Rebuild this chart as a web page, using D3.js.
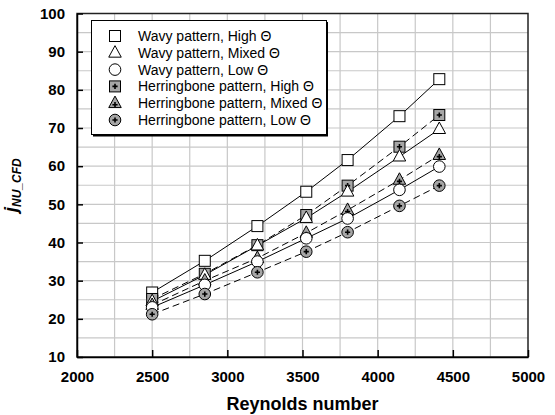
<!DOCTYPE html>
<html>
<head>
<meta charset="utf-8">
<script src="https://cdn.jsdelivr.net/npm/d3@7"></script>
<style>
html,body{margin:0;padding:0;background:#fff;}
svg{display:block;font-family:"Liberation Sans",Arial,sans-serif;}
</style>
</head>
<body>
<svg id="chart" width="555" height="415"></svg>
<script>
// ---- data ----
const reynolds = [2500, 2850, 3200, 3525, 3800, 4145, 4410];
const wavyHigh   = [26.9, 35.2, 44.3, 53.3, 61.6, 73.1, 82.8];
const wavyMixed  = [24.6, 31.5, 39.2, 46.4, 53.3, 62.5, 69.7];
const wavyLow    = [23.0, 28.9, 35.0, 41.1, 46.3, 53.8, 59.9];
const hbHigh     = [25.2, 31.8, 39.3, 47.2, 54.9, 65.1, 73.4];
const hbMixed    = [23.6, 30.0, 35.9, 42.5, 48.5, 56.4, 62.9];
const hbLow      = [21.2, 26.5, 32.2, 37.6, 42.7, 49.6, 54.9];
const seriesNames = ["Wavy pattern, High \u0398","Wavy pattern, Mixed \u0398","Wavy pattern, Low \u0398",
  "Herringbone pattern, High \u0398","Herringbone pattern, Mixed \u0398","Herringbone pattern, Low \u0398"];
const xTicks = [2000, 2500, 3000, 3500, 4000, 4500, 5000];
const yTicks = [10, 20, 30, 40, 50, 60, 70, 80, 90, 100];

const series = [
  {name: seriesNames[0], values: wavyHigh,  shape: "square",   filled: false},
  {name: seriesNames[1], values: wavyMixed, shape: "triangle", filled: false},
  {name: seriesNames[2], values: wavyLow,   shape: "circle",   filled: false},
  {name: seriesNames[3], values: hbHigh,    shape: "square",   filled: true},
  {name: seriesNames[4], values: hbMixed,   shape: "triangle", filled: true},
  {name: seriesNames[5], values: hbLow,     shape: "circle",   filled: true}
];
// drawing order (interleaved as in the original)
const drawOrder = [0, 3, 1, 4, 2, 5];

const svg = d3.select("#chart");
const L = 77, R = 528, T = 13.5, B = 357;
const x = d3.scaleLinear().domain([2000, 5000]).range([L, R]);
const y = d3.scaleLinear().domain([10, 100]).range([B, T]);

// grid
const grid = svg.append("g");
grid.selectAll("line.v").data(d3.range(2250, 5000, 250)).enter().append("line")
  .attr("x1", d => x(d)).attr("x2", d => x(d)).attr("y1", T).attr("y2", B)
  .attr("stroke", "#c8c8c8").attr("stroke-width", 1.2);
grid.selectAll("line.h").data(d3.range(15, 100, 5)).enter().append("line")
  .attr("x1", L).attr("x2", R).attr("y1", d => y(d)).attr("y2", d => y(d))
  .attr("stroke", "#c8c8c8").attr("stroke-width", 1.2);

// frame
svg.append("rect").attr("x", L).attr("y", T).attr("width", R - L).attr("height", B - T)
  .attr("fill", "none").attr("stroke", "#222").attr("stroke-width", 1.5);

// axes
const xAxis = d3.axisBottom(x).tickValues(xTicks).tickFormat(d3.format("d"))
  .tickSizeInner(-7).tickSizeOuter(0).tickPadding(14);
const gx = svg.append("g").attr("transform", `translate(0,${B})`).call(xAxis);
const yAxis = d3.axisLeft(y).tickValues(yTicks).tickFormat(d3.format("d"))
  .tickSizeInner(-6).tickSizeOuter(0).tickPadding(12);
const gy = svg.append("g").attr("transform", `translate(${L},0)`).call(yAxis);
[gx, gy].forEach(g => {
  g.select(".domain").attr("stroke", "#000").attr("stroke-width", 1.5);
  g.selectAll(".tick line").attr("stroke", "#000").attr("stroke-width", 1.5);
  g.selectAll(".tick text").attr("font-family", "Liberation Sans, Arial, sans-serif")
    .attr("font-size", 15).attr("font-weight", "bold").attr("fill", "#000");
});

// lines
const line = d3.line().x((d, i) => x(reynolds[i])).y(d => y(d));
const gLines = svg.append("g");
const gMarks = svg.append("g");
const GRAY = "#a6a6a6";

function marker(g, shape, filled, cx, cy) {
  const fill = filled ? GRAY : "#fff";
  if (shape === "square") {
    g.append("rect").attr("x", cx - 5.5).attr("y", cy - 5.5).attr("width", 11).attr("height", 11)
      .attr("fill", fill).attr("stroke", "#000").attr("stroke-width", 1);
  } else if (shape === "circle") {
    g.append("circle").attr("cx", cx).attr("cy", cy).attr("r", 5.8)
      .attr("fill", fill).attr("stroke", "#000").attr("stroke-width", 1);
  } else {
    const h = 11.5, w = 12.5;
    g.append("path").attr("d", `M${cx},${cy - h * 0.62}L${cx + w / 2},${cy + h * 0.38}L${cx - w / 2},${cy + h * 0.38}Z`)
      .attr("fill", fill).attr("stroke", "#000").attr("stroke-width", 1);
  }
  if (filled) {
    const oy = shape === "triangle" ? 1.5 : 0;
    g.append("path").attr("d", `M${cx - 2.6},${cy + oy}H${cx + 2.6}M${cx},${cy + oy - 2.6}V${cy + oy + 2.6}`)
      .attr("stroke", "#000").attr("stroke-width", 1.6);
  }
}

drawOrder.forEach(si => {
  const s = series[si];
  gLines.append("path").attr("d", line(s.values)).attr("fill", "none")
    .attr("stroke", "#000").attr("stroke-width", 1)
    .attr("stroke-dasharray", s.filled ? "7,4" : null);
});
drawOrder.forEach(si => {
  const s = series[si];
  const g = gMarks.append("g");
  s.values.forEach((v, i) => marker(g, s.shape, s.filled, x(reynolds[i]), y(v)));
});

// legend
const lg = svg.append("g");
lg.append("rect").attr("x", 93).attr("y", 22).attr("width", 235).attr("height", 114.5).attr("fill", "#000");
lg.append("rect").attr("x", 91.5).attr("y", 20.5).attr("width", 235).attr("height", 114).attr("fill", "#fff")
  .attr("stroke", "#000").attr("stroke-width", 1);
series.forEach((s, i) => {
  const ry = 36 + i * 16.8;
  marker(lg, s.shape, s.filled, 115, ry);
  lg.append("text").attr("x", 138).attr("y", ry).attr("dy", "0.36em")
    .attr("font-size", 14).attr("fill", "#000").text(s.name);
});

// axis titles
svg.append("text").attr("x", (L + R) / 2).attr("y", 410).attr("text-anchor", "middle")
  .attr("font-size", 18).attr("font-weight", "bold").text("Reynolds number");
const yt = svg.append("text").attr("transform", `translate(17,${(T + B) / 2}) rotate(-90)`)
  .attr("text-anchor", "middle").attr("font-weight", "bold").attr("font-style", "italic");
yt.append("tspan").attr("font-size", 19).text("j");
yt.append("tspan").attr("font-size", 12).attr("dy", 4).text("NU_CFD");
</script>
</body>
</html>
